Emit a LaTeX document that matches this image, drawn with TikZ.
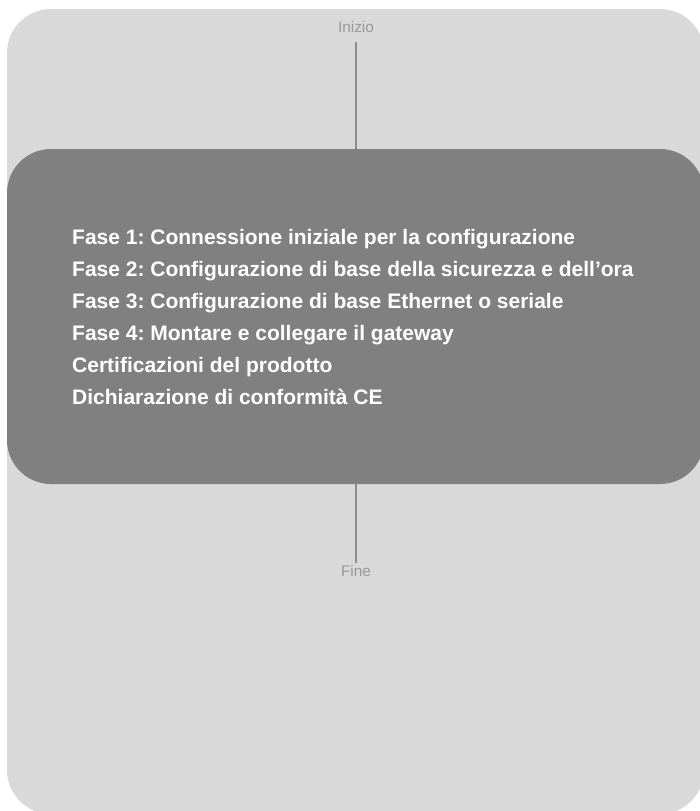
\documentclass[tikz,border=0pt]{standalone}
\usepackage{fontspec}
\setmainfont{Liberation Sans}
\usetikzlibrary{positioning,calc}
\definecolor{panelgray}{HTML}{D9D9D9}
\definecolor{stepgray}{HTML}{808080}
\definecolor{linegray}{HTML}{8C8C8C}
\definecolor{labelgray}{HTML}{999999}
\frenchspacing

\begin{document}
\begin{tikzpicture}[
  x=1pt, y=-1pt,
  panel/.style={fill=panelgray, rounded corners=44pt, minimum width=697pt, minimum height=805pt, inner sep=0pt},
  stepbox/.style={fill=stepgray, rounded corners=44pt, minimum width=697pt, minimum height=335pt, inner sep=0pt},
  item/.style={anchor=base west, inner sep=0pt, text=white, font=\fontsize{21}{25}\selectfont\bfseries},
  endlabel/.style={anchor=base, inner sep=2pt, text=labelgray, font=\fontsize{15.4}{18}\selectfont},
  conn/.style={draw=linegray, line width=2.7pt}
]
\useasboundingbox (0,0) rectangle (699,811);
\node[panel] (panel) at (355.5,411.5) {};
\node[stepbox] (steps) at (355.5,316.5) {};
\node[endlabel] (inizio) at (356,32) {Inizio};
\node[endlabel] (fine) at (356,576) {Fine};
\foreach \txt [count=\i] in {Fase 1: Connessione iniziale per la configurazione,
    Fase 2: Configurazione di base della sicurezza e dell’ora,
    Fase 3: Configurazione di base Ethernet o seriale,
    Fase 4: Montare e collegare il gateway,
    Certificazioni del prodotto,
    Dichiarazione di conformità CE}
  \node[item] (fase\i) at (72,{244+32*(\i-1)}) {\txt};

\draw[conn, shorten <=8pt] (inizio) -- (inizio |- steps.north);
\draw[conn] (fine |- steps.south) -- (fine);
\end{tikzpicture}
\end{document}
